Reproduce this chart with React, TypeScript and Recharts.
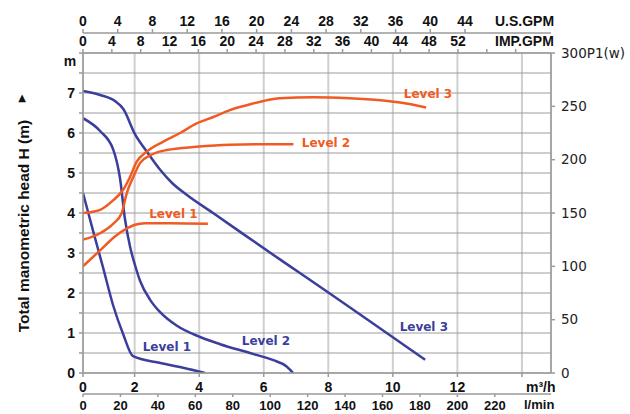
import React from 'react';
import {
  LineChart, Line, XAxis, YAxis, CartesianGrid, ReferenceDot,
} from 'recharts';

// Flow Q in m³/h, head H in m, input power P1 in W
const headL1Flow = [0.4, 0.71, 1.02, 1.33, 1.64, 1.95, 2.8, 3.5, 4.18];
const headL1 = [4.5, 3.56, 2.64, 1.7, 0.98, 0.42, 0.25, 0.13, 0];
const headL2Flow = [0.4, 0.93, 1.34, 1.55, 1.7, 1.86, 2.01, 2.17, 2.48, 2.79, 3.31, 4.03, 4.65, 5.57, 6.3, 6.7, 6.91];
const headL2 = [6.37, 6.05, 5.58, 4.85, 3.85, 3.15, 2.7, 2.3, 1.83, 1.52, 1.18, 0.9, 0.72, 0.5, 0.32, 0.17, 0];
const headL3Flow = [0.4, 0.93, 1.39, 1.65, 2.01, 2.38, 2.79, 3.16, 3.62, 4.43, 5.48, 6.5, 7.12, 11.0];
const headL3 = [7.05, 6.95, 6.8, 6.6, 5.97, 5.53, 5.08, 4.75, 4.45, 4.0, 3.41, 2.84, 2.5, 0.33];

const powerL1Flow = [0.4, 0.93, 1.39, 1.79, 2.01, 2.32, 3.1, 4.27];
const powerL1 = [100, 115, 128, 136, 139, 140.5, 140.5, 140];
const powerL2Flow = [0.4, 0.93, 1.34, 1.6, 1.75, 1.96, 2.17, 2.48, 2.99, 3.92, 4.95, 5.99, 6.92];
const powerL2 = [125, 131, 140, 150, 168, 184, 197, 204, 209, 212, 214, 214.5, 214.5];
const powerL3Flow = [0.4, 0.93, 1.34, 1.65, 1.86, 2.06, 2.37, 2.89, 3.41, 3.92, 4.44, 4.95, 5.47, 5.99, 6.5, 7.53, 8.67, 9.7, 10.22, 11.03];
const powerL3 = [150, 153, 162, 172, 184, 198, 207.5, 217, 225, 234, 240, 246.5, 251, 255, 257.5, 258.5, 257.5, 255.5, 253.5, 249];

const flowTicks = [0.4, 2, 4, 6, 8, 10, 12, 14];
const litreTicks = [0, 20, 40, 60, 80, 100, 120, 140, 160, 180, 200, 220];
const usGpmTicks = [0, 4, 8, 12, 16, 20, 24, 28, 32, 36, 40, 44];
const impGpmTicks = [0, 4, 8, 12, 16, 20, 24, 28, 32, 36, 40, 44, 48, 52, 56, 60];
const headTicks = [0, 0.5, 1, 1.5, 2, 2.5, 3, 3.5, 4, 4.5, 5, 5.5, 6, 6.5, 7, 7.5, 8];
const powerTicks = [0, 50, 100, 150, 200, 250, 300];

// extents of the secondary flow scales (same span as 0.4–14.9 m³/h)
const litreSpan = [0, 250];
const usGpmSpan = [0, 53.9];
const impGpmSpan = [0, 64.9];

// curve name tags: [text, flow, value]
const headTags: [string, number, number][] = [
  ['Level 1', 3.0, 0.65],
  ['Level 2', 6.07, 0.8],
  ['Level 3', 10.96, 1.15],
];
const powerTags: [string, number, number][] = [
  ['Level 1', 3.2, 149],
  ['Level 2', 7.93, 215.6],
  ['Level 3', 11.09, 261.6],
];

const BLUE = '#3b3e9c';
const ORANGE = '#f15a22';
const AXIS = '#9a9a9a';

const zip = (qs: number[], vs: number[]) => qs.map((q, i) => ({ q, v: vs[i] }));
const span = (s: number[]) => s.map(q => ({ q }));

const boldTick = { fontFamily: 'Liberation Sans, Arial', fontWeight: 700, fontSize: 14, fill: '#111' };

const tagLabel = (text: string, color: string) => ({
  value: text,
  position: 'center' as const,
  fill: color,
  fontFamily: 'DejaVu Sans',
  fontWeight: 700,
  fontSize: 12,
});

export default function App() {
  return (
    <div style={{ position: 'absolute', left: 0, top: 0, width: 630, height: 414, background: '#fff' }}>
      <LineChart width={630} height={414} margin={{ top: 0, right: 0, bottom: 0, left: 43 }}>
        <CartesianGrid xAxisId="flow" yAxisId="h" horizontal={false} stroke="#d0d0d0" strokeWidth={2} />
        <CartesianGrid xAxisId="flow" yAxisId="h" vertical={false} stroke="#9c9c9c" strokeWidth={1} />

        {/* stacked by id: "flow" sits on the plot, "litre" below it; "imp" on top, "us" above */}
        <XAxis xAxisId="flow" dataKey="q" type="number" orientation="bottom" domain={[0.4, 14.9]}
          allowDataOverflow ticks={flowTicks} height={21} tickSize={4} tickMargin={5}
          stroke={AXIS} strokeWidth={1.5} tick={boldTick}
          tickFormatter={(v: number) => (v === 0.4 ? '0' : v === 14 ? '' : String(v))} />
        <XAxis xAxisId="litre" dataKey="q" type="number" orientation="bottom" domain={litreSpan}
          allowDataOverflow ticks={litreTicks} height={20} tickSize={3} tickMargin={4} stroke={AXIS}
          strokeWidth={1.5} tick={{ ...boldTick, fontSize: 13 }} />
        <XAxis xAxisId="imp" dataKey="q" type="number" orientation="top" domain={impGpmSpan}
          allowDataOverflow ticks={impGpmTicks} height={20} tickSize={4} tickMargin={3} stroke={AXIS}
          strokeWidth={1.5} tick={boldTick} tickFormatter={(v: number) => (v > 52 ? '' : String(v))} />
        <XAxis xAxisId="us" dataKey="q" type="number" orientation="top" domain={usGpmSpan}
          allowDataOverflow ticks={usGpmTicks} height={33} tickSize={4} tickMargin={3} stroke={AXIS}
          strokeWidth={1.5} tick={boldTick} />

        <YAxis yAxisId="h" type="number" domain={[0, 8]} allowDataOverflow ticks={headTicks} width={40}
          tickSize={4} tickMargin={4} stroke={AXIS} strokeWidth={1.5} tick={boldTick}
          tickFormatter={(v: number) => (Number.isInteger(v) && v < 8 ? String(v) : '')} />
        <YAxis yAxisId="w" orientation="right" type="number" domain={[0, 300]} allowDataOverflow
          ticks={powerTicks} width={79} tickSize={4} tickMargin={6} stroke={AXIS} strokeWidth={1.5}
          tick={{ fontFamily: 'DejaVu Sans', fontSize: 13.5, fill: '#222' }}
          tickFormatter={(v: number) => (v === 300 ? '300P1(w)' : String(v))} />

        {/* empty series so the secondary flow scales get their ticks */}
        <Line xAxisId="litre" yAxisId="h" data={span(litreSpan)} dataKey="v" stroke="none" dot={false}
          isAnimationActive={false} />
        <Line xAxisId="imp" yAxisId="h" data={span(impGpmSpan)} dataKey="v" stroke="none" dot={false}
          isAnimationActive={false} />
        <Line xAxisId="us" yAxisId="h" data={span(usGpmSpan)} dataKey="v" stroke="none" dot={false}
          isAnimationActive={false} />

        <Line xAxisId="flow" yAxisId="h" data={zip(headL1Flow, headL1)} dataKey="v" type="monotone"
          stroke={BLUE} strokeWidth={2.5} dot={false} isAnimationActive={false} />
        <Line xAxisId="flow" yAxisId="h" data={zip(headL2Flow, headL2)} dataKey="v" type="monotone"
          stroke={BLUE} strokeWidth={2.5} dot={false} isAnimationActive={false} />
        <Line xAxisId="flow" yAxisId="h" data={zip(headL3Flow, headL3)} dataKey="v" type="monotone"
          stroke={BLUE} strokeWidth={2.5} dot={false} isAnimationActive={false} />
        <Line xAxisId="flow" yAxisId="w" data={zip(powerL1Flow, powerL1)} dataKey="v" type="monotone"
          stroke={ORANGE} strokeWidth={2.5} dot={false} isAnimationActive={false} />
        <Line xAxisId="flow" yAxisId="w" data={zip(powerL2Flow, powerL2)} dataKey="v" type="monotone"
          stroke={ORANGE} strokeWidth={2.5} dot={false} isAnimationActive={false} />
        <Line xAxisId="flow" yAxisId="w" data={zip(powerL3Flow, powerL3)} dataKey="v" type="monotone"
          stroke={ORANGE} strokeWidth={2.5} dot={false} isAnimationActive={false} />

        {headTags.map(([t, q, v]) => (
          <ReferenceDot key={'h' + t} xAxisId="flow" yAxisId="h" x={q} y={v} r={0}
            fill="none" stroke="none" label={tagLabel(t, BLUE)} />
        ))}
        {powerTags.map(([t, q, v]) => (
          <ReferenceDot key={'p' + t} xAxisId="flow" yAxisId="w" x={q} y={v} r={0}
            fill="none" stroke="none" label={tagLabel(t, ORANGE)} />
        ))}
      </LineChart>

      {/* axis titles and units */}
      <svg width={630} height={414} style={{ position: 'absolute', left: 0, top: 0, pointerEvents: 'none' }}>
        <g fontFamily="Liberation Sans, Arial" fontWeight={700} fontSize={14} fill="#111">
          <text x={495} y={21} dominantBaseline="central">U.S.GPM</text>
          <text x={495} y={41} dominantBaseline="central">IMP.GPM</text>
          <text x={526} y={387} dominantBaseline="central">m³/h</text>
          <text x={524} y={404} dominantBaseline="central" fontSize={13}>l/min</text>
          <text x={70} y={61} textAnchor="middle" dominantBaseline="central">m</text>
          <text transform="rotate(-90)" x={-226} y={23} textAnchor="middle" dominantBaseline="central"
            fontSize={15.5}>Total manometric head H (m)</text>
        </g>
        <text x={22} y={97} textAnchor="middle" dominantBaseline="central" fontFamily="DejaVu Sans"
          fontSize={10} fill="#111">▲</text>
      </svg>
    </div>
  );
}
